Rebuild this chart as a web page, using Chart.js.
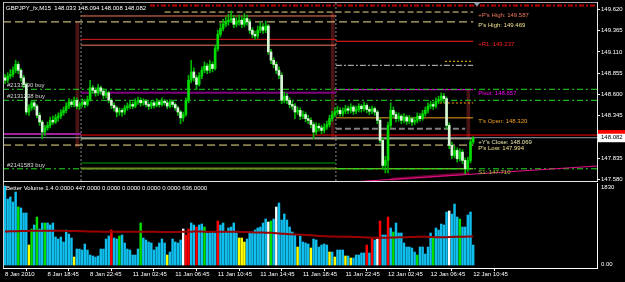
<!DOCTYPE html>
<html lang="en">
<head>
<meta charset="UTF-8">
<title>GBPJPY_fx,M15</title>
<script src="https://cdn.jsdelivr.net/npm/chart.js"></script>
<style>
  html, body { margin: 0; padding: 0; background: #000; }
  #wrap { position: relative; width: 625px; height: 282px; overflow: hidden; background: #000; }
  #wrap canvas { position: absolute; left: 0; }
</style>
</head>
<body>
<div id="wrap">
  <canvas id="priceChart" width="625" height="182" style="top:0px"></canvas>
  <canvas id="volChart" width="625" height="100" style="top:182px"></canvas>
</div>
<script>
// ---- data (M15 bars, oldest first) ----
const opens = [
  148.80,148.77,148.82,148.84,148.89,148.96,148.89,148.80,148.72,148.39,
  148.44,148.50,148.46,148.35,148.27,148.15,148.20,148.23,148.29,148.27,
  148.32,148.34,148.38,148.41,148.46,148.51,148.48,148.53,148.46,148.48,
  148.51,148.48,148.54,148.68,148.65,148.62,148.68,148.64,148.59,148.62,
  148.53,148.47,148.44,148.39,148.41,148.39,148.44,148.46,148.48,148.46,
  148.51,148.53,148.50,148.52,148.48,148.46,148.50,148.47,148.51,148.48,
  148.52,148.50,148.46,148.51,148.48,148.44,148.39,148.32,148.36,148.53,
  148.77,148.87,148.80,148.72,148.82,148.89,148.94,148.89,148.96,148.91,
  149.15,149.32,149.39,149.44,149.47,149.49,149.51,149.44,149.47,149.49,
  149.44,149.51,149.47,149.37,149.32,149.30,149.37,149.41,149.37,149.42,
  149.11,149.01,148.96,148.89,148.83,148.53,148.58,148.53,148.48,148.46,
  148.39,148.41,148.34,148.36,148.31,148.29,148.24,148.15,148.22,148.20,
  148.17,148.21,148.24,148.31,148.36,148.39,148.41,148.37,148.40,148.43,
  148.41,148.45,148.40,148.42,148.46,148.43,148.47,148.42,148.40,148.43,
  148.39,148.29,148.05,147.75,147.81,148.23,148.41,148.36,148.31,148.34,
  148.29,148.33,148.28,148.31,148.27,148.29,148.34,148.31,148.37,148.41,
  148.46,148.48,148.46,148.52,148.54,148.58,148.55,148.23,147.99,147.87,
  147.93,147.83,147.91,147.81,147.71,147.81,148.033
];
const highs = [
  148.84,148.86,148.90,148.93,149.01,148.99,148.91,148.83,148.74,148.48,
  148.53,148.52,148.48,148.38,148.29,148.23,148.27,148.33,148.34,148.36,
  148.38,148.42,148.45,148.50,148.55,148.54,148.57,148.56,148.51,148.55,
  148.54,148.58,148.77,148.71,148.68,148.72,148.70,148.67,148.65,148.64,
  148.55,148.50,148.46,148.44,148.43,148.47,148.50,148.52,148.51,148.55,
  148.57,148.56,148.55,148.54,148.51,148.53,148.52,148.55,148.53,148.56,
  148.54,148.52,148.54,148.53,148.50,148.46,148.41,148.39,148.56,148.83,
  149.01,148.92,148.83,148.86,148.93,148.99,148.97,149.01,148.99,149.19,
  149.37,149.45,149.50,149.53,149.56,149.60,149.55,149.52,149.55,149.53,
  149.57,149.55,149.50,149.40,149.36,149.42,149.47,149.45,149.48,149.44,
  149.14,149.04,148.99,148.93,148.86,148.63,148.61,148.56,148.52,148.49,
  148.45,148.44,148.40,148.39,148.35,148.32,148.27,148.26,148.25,148.23,
  148.25,148.28,148.35,148.40,148.44,148.46,148.44,148.44,148.47,148.46,
  148.49,148.47,148.46,148.49,148.48,148.51,148.49,148.45,148.46,148.45,
  148.41,148.31,148.08,147.86,148.27,148.50,148.45,148.39,148.38,148.36,
  148.37,148.35,148.35,148.33,148.33,148.38,148.37,148.41,148.45,148.50,
  148.52,148.51,148.56,148.58,148.62,148.61,148.57,148.26,148.03,147.98,
  147.96,147.95,147.94,147.84,147.85,148.06,148.094
];
const lows = [
  148.73,148.74,148.79,148.81,148.86,148.85,148.76,148.68,148.36,148.35,
  148.41,148.42,148.32,148.23,148.07,148.11,148.17,148.20,148.24,148.25,
  148.28,148.31,148.35,148.38,148.43,148.45,148.45,148.43,148.42,148.45,
  148.44,148.46,148.52,148.61,148.58,148.59,148.60,148.55,148.56,148.50,
  148.43,148.40,148.33,148.35,148.34,148.36,148.41,148.43,148.43,148.44,
  148.48,148.46,148.47,148.45,148.42,148.43,148.44,148.45,148.45,148.46,
  148.47,148.43,148.44,148.45,148.41,148.35,148.25,148.28,148.34,148.50,
  148.74,148.76,148.66,148.70,148.79,148.86,148.85,148.86,148.87,148.89,
  149.12,149.29,149.36,149.41,149.43,149.46,149.40,149.41,149.43,149.40,
  149.41,149.43,149.33,149.28,149.26,149.27,149.34,149.33,149.34,149.08,
  148.97,148.92,148.85,148.79,148.49,148.50,148.49,148.44,148.42,148.31,
  148.36,148.30,148.31,148.27,148.25,148.20,148.07,148.12,148.16,148.13,
  148.14,148.18,148.21,148.28,148.33,148.36,148.34,148.34,148.37,148.37,
  148.38,148.36,148.37,148.39,148.39,148.40,148.38,148.36,148.37,148.35,
  148.25,148.02,147.71,147.66,147.66,148.20,148.32,148.27,148.28,148.25,
  148.26,148.24,148.25,148.23,148.24,148.26,148.28,148.29,148.34,148.38,
  148.43,148.42,148.44,148.49,148.51,148.50,148.19,147.95,147.83,147.84,
  147.79,147.80,147.77,147.65,147.68,147.78,148.008
];
const closes = [
  148.77,148.82,148.84,148.89,148.96,148.89,148.80,148.72,148.39,148.44,
  148.50,148.46,148.35,148.27,148.15,148.20,148.23,148.29,148.27,148.32,
  148.34,148.38,148.41,148.46,148.51,148.48,148.53,148.46,148.48,148.51,
  148.48,148.54,148.68,148.65,148.62,148.68,148.64,148.59,148.62,148.53,
  148.47,148.44,148.39,148.41,148.39,148.44,148.46,148.48,148.46,148.51,
  148.53,148.50,148.52,148.48,148.46,148.50,148.47,148.51,148.48,148.52,
  148.50,148.46,148.51,148.48,148.44,148.39,148.32,148.36,148.53,148.77,
  148.87,148.80,148.72,148.82,148.89,148.94,148.89,148.96,148.91,149.15,
  149.32,149.39,149.44,149.47,149.49,149.51,149.44,149.47,149.49,149.44,
  149.51,149.47,149.37,149.32,149.30,149.37,149.41,149.37,149.42,149.11,
  149.01,148.96,148.89,148.83,148.53,148.58,148.53,148.48,148.46,148.39,
  148.41,148.34,148.36,148.31,148.29,148.24,148.15,148.22,148.20,148.17,
  148.21,148.24,148.31,148.36,148.39,148.41,148.37,148.40,148.43,148.41,
  148.45,148.40,148.42,148.46,148.43,148.47,148.42,148.40,148.43,148.39,
  148.29,148.05,147.75,147.81,148.23,148.41,148.36,148.31,148.34,148.29,
  148.33,148.28,148.31,148.27,148.29,148.34,148.31,148.37,148.41,148.46,
  148.48,148.46,148.52,148.54,148.58,148.55,148.23,147.99,147.87,147.93,
  147.83,147.91,147.81,147.71,147.81,148.033,148.082
];

// Better Volume 1.4: tick volume, its average and the bar class
// n = neutral, l = low volume, u = climax up, d = climax down, c = churn
const volumes = [
  1770,1478,1523,1411,1635,1299,1277,1165,1165,448,
  806,896,1075,806,941,941,941,896,941,627,
  582,627,515,784,694,605,179,358,358,336,
  470,336,224,202,179,202,358,358,582,650,
  784,605,582,650,672,493,358,336,224,224,
  358,941,605,560,515,493,336,403,493,582,
  493,224,291,582,515,493,560,806,672,806,
  941,896,851,896,918,851,717,717,739,717,
  986,896,941,739,829,851,941,717,605,605,
  515,582,739,739,784,829,851,941,1030,963,
  986,1030,1299,1389,1008,1142,1008,851,739,672,
  403,650,515,493,470,381,582,560,403,448,
  470,448,291,291,179,336,336,336,202,202,
  157,157,224,224,269,269,448,269,605,560,
  582,986,672,672,1075,829,739,941,717,717,
  493,403,403,381,291,224,403,403,246,403,
  717,627,829,784,918,896,1187,1210,1142,1366,
  1075,1030,851,851,1120,1187,447
];
const volAvg = [
  752,752,754,755,756,758,760,762,763,764,
  765,766,766,767,768,768,767,767,766,766,
  766,765,765,764,764,763,762,760,758,756,
  754,752,750,749,748,748,747,747,746,746,
  746,747,747,746,745,745,745,744,744,744,
  745,745,745,744,744,743,743,743,742,742,
  742,741,741,741,742,742,743,744,745,746,
  747,748,748,748,748,747,747,746,746,746,
  747,747,746,746,745,745,744,744,743,742,
  740,738,735,732,730,728,727,726,725,724,
  722,718,714,708,702,698,694,690,688,686,
  684,680,676,672,668,664,660,656,652,648,
  645,642,640,638,636,635,634,633,632,632,
  631,630,628,626,624,620,616,614,612,612,
  611,611,612,612,613,614,616,618,620,621,
  622,624,626,628,630,631,632,632,631,630,
  628,626,624,622,622,622,624,628,630,632,
  633,634,635,635,636,636,636
];
const volType = [
  'n','n','n','n','n','c','n','n','n','l',
  'c','n','c','n','n','c','n','n','n','n',
  'n','n','n','n','n','n','l','n','n','n',
  'n','n','n','n','n','n','n','n','n','n',
  'u','n','n','c','n','n','n','n','n','n',
  'n','c','n','n','n','n','n','n','n','n',
  'n','l','n','n','n','n','n','d','u','u',
  'n','n','u','n','n','c','n','n','n','n',
  'u','n','n','n','n','n','n','n','l','l',
  'l','n','n','n','n','n','n','n','n','d',
  'c','n','d','n','n','n','n','n','n','n',
  'l','n','n','n','n','l','n','n','n','n',
  'n','n','l','n','l','n','n','n','l','n',
  'l','n','n','n','n','n','u','n','u','n',
  'd','u','n','n','u','n','c','n','n','n',
  'n','n','n','n','n','c','n','n','n','n',
  'n','c','n','n','n','n','n','d','n','n',
  'n','c','n','n','n','n','n'
];

const timeTickIdx = [0, 16, 32, 48, 64, 80, 96, 112, 128, 144, 160, 176];
const timeLabels = ['8 Jan 2010', '8 Jan 18:45', '8 Jan 22:45', '11 Jan 02:45', '11 Jan 06:45', '11 Jan 10:45',
                    '11 Jan 14:45', '11 Jan 18:45', '11 Jan 22:45', '12 Jan 02:45', '12 Jan 06:45', '12 Jan 10:45'];
const priceTicks = [147.580, 147.835, 148.345, 148.600, 148.855, 149.110, 149.365, 149.620];
const volTickLabels = ['1830', '0.00'];

// horizontal levels drawn by the indicators and open orders (null = chart edge)
const levelKeys   = ['r2', 'pHigh2', 'yHigh', 'pHigh', 'yR1', 'yR1b', 'r1', 'dotHigh', 'midDash', 'order1',
                     'pivot', 'yPivot', 'order2', 'dotOpen', 'tOpen', 'grayDash', 'oldPivot', 'ask', 'bid', 'yClose',
                     'pLow', 'yS1', 'yS1b', 'order3', 's1'];
const levelPrices = [149.665, 149.587, 149.540, 149.469, 149.260, 149.190, 149.237, 148.997, 148.949, 148.662,
                     148.657, 148.620, 148.530, 148.498, 148.320, 148.190, 148.126, 148.114, 148.082, 148.069,
                     147.994, 147.780, 147.712, 147.710, 147.710];
const levelFrom   = [54.5, 60, 28.6, null, 28.6, 28.6, 124.4, 165.4, 124.4, null,
                     124.4, 28.6, null, 163.5, 124.4, 124.4, null, 28.6, null, 28.6,
                     null, 28.6, 28.6, null, 124.4];
const levelTo     = [null, 176, 124.4, 176, 124.4, 124.4, 176, 176, 176, null,
                     176, 124.4, null, 176, 176, 173, 28.6, null, null, 176,
                     176, 124.4, 124.4, null, 176];

const orderNames  = { order1: '#2131190 buy', order2: '#2131238 buy', order3: '#2141583 buy' };
const levelText   = { pHigh2: "+P's High: ", pHigh: "P's High: ", r1: '+R1: ', pivot: 'Pivot: ',
                      tOpen: "T's Open: ", yClose: "+Y's Close: ", pLow: "P's Low: ", s1: 'S1: ' };

const separators = [28.6, 124.4];
const rangeX  = [27.2, 123.2, 174.2];
const rangeLo = [147.97, 148.06, 148.09];
const rangeHi = [149.46, 149.58, 148.65];
const trendX = [134.2, 222.6];
const trendY = [147.56, 147.743];
const trend2X = [145, 174.5];
const trend2Y = [147.585, 147.655];

// ---- styles ----
const FONT = '6px "Liberation Sans", Arial, sans-serif';
const X_MIN = -0.752, X_MAX = 222.56;
const PRICE_MIN = 147.5637, PRICE_MAX = 149.6954;
const VOL_MIN = -67, VOL_MAX = 1837;

const dashDot = [6, 3, 2, 3];
const levelStyle = {
  r2:       { color: '#c00000', width: 2, dash: [5, 2, 2, 2] },
  pHigh2:   { color: '#e6d98a', width: 1, dash: [6, 3] },
  yHigh:    { color: '#f07a5c', width: 1 },
  pHigh:    { color: '#efe08c', width: 1, dash: [8, 4] },
  yR1:      { color: '#e01818', width: 1 },
  yR1b:     { color: '#f07a5c', width: 1 },
  r1:       { color: '#ff2020', width: 1 },
  dotHigh:  { color: '#ffc000', width: 1, dash: [2, 2] },
  midDash:  { color: '#c8c8c8', width: 1, dash: [6, 2, 2, 2] },
  order1:   { color: '#22dd22', width: 1, dash: dashDot },
  pivot:    { color: '#ff00ff', width: 1 },
  yPivot:   { color: '#800080', width: 2 },
  order2:   { color: '#22dd22', width: 1, dash: dashDot },
  dotOpen:  { color: '#ffa500', width: 1, dash: [2, 2] },
  tOpen:    { color: '#f0a020', width: 1 },
  grayDash: { color: '#808080', width: 2, dash: [6, 3] },
  oldPivot: { color: '#a020a0', width: 2 },
  ask:      { color: '#ff0000', width: 1 },
  bid:      { color: '#8fa0b4', width: 1 },
  yClose:   { color: '#e8e8b0', width: 1 },
  pLow:     { color: '#efe08c', width: 1, dash: [8, 4] },
  yS1:      { color: '#005000', width: 2 },
  yS1b:     { color: '#6b8e23', width: 2 },
  order3:   { color: '#22dd22', width: 1, dash: dashDot },
  s1:       { color: '#80ff20', width: 1 }
};
const labelColor = { pHigh2: '#f07a5c', pHigh: '#efe08c', r1: '#ff2020', pivot: '#ff00ff',
                     tOpen: '#f0a020', yClose: '#e8e8b0', pLow: '#efe08c', s1: '#9acd32' };
const volColor = { n: '#10bfee', l: '#ffff00', u: '#ff0000', d: '#ffffff', c: '#00e000' };

const lastBar = closes.length - 1;

// ---- price panel ----
const levelSets = levelKeys.map((k, i) => {
  const st = levelStyle[k];
  return {
    type: 'line',
    data: [
      { x: levelFrom[i] === null ? X_MIN : levelFrom[i], y: levelPrices[i] },
      { x: levelTo[i] === null ? X_MAX : levelTo[i], y: levelPrices[i] }
    ],
    borderColor: st.color,
    borderWidth: st.width,
    borderDash: st.dash || [],
    pointRadius: 0,
    tension: 0,
    order: 3
  };
});

const sepSets = separators.map(s => ({
  type: 'line',
  data: [{ x: s, y: PRICE_MIN }, { x: s, y: PRICE_MAX }],
  borderColor: '#8a8a8a', borderWidth: 1, borderDash: [2, 2], pointRadius: 0, order: 4
}));

const trendSets = [
  { type: 'line', data: trend2X.map((v, i) => ({ x: v, y: trend2Y[i] })),
    borderColor: '#6a0030', borderWidth: 3, pointRadius: 0, order: 3 },
  { type: 'line', data: trendX.map((v, i) => ({ x: v, y: trendY[i] })),
    borderColor: '#e8108c', borderWidth: 1, pointRadius: 0, order: 2 }
];

function fmtPrice(v) { return v.toFixed(3); }

const priceDecor = {
  id: 'priceDecor',
  afterDraw(chart) {
    const { ctx, chartArea: a, scales: { x, y } } = chart;
    ctx.save();
    // frame
    ctx.lineWidth = 1;
    ctx.strokeStyle = '#a8a8a8';
    ctx.beginPath(); ctx.moveTo(a.left, 2.5); ctx.lineTo(a.right, 2.5); ctx.stroke();
    ctx.strokeStyle = '#c8c8c8';
    ctx.beginPath(); ctx.moveTo(a.left + 0.5, 2); ctx.lineTo(a.left + 0.5, 182); ctx.stroke();
    ctx.strokeStyle = '#e8e8e8';
    ctx.beginPath(); ctx.moveTo(a.left, a.bottom + 0.5); ctx.lineTo(a.right, a.bottom + 0.5); ctx.stroke();
    ctx.beginPath(); ctx.moveTo(a.right + 0.5, 2); ctx.lineTo(a.right + 0.5, 182); ctx.stroke();

    ctx.font = FONT;
    ctx.textBaseline = 'middle';
    ctx.textAlign = 'left';

    // header
    ctx.fillStyle = '#ffffff';
    const ohlc = [opens[lastBar], highs[lastBar], lows[lastBar], closes[lastBar]].map(fmtPrice).join(' ');
    ctx.fillText('GBPJPY_fx,M15  ' + ohlc, 6, 8);

    // order labels on the left
    ctx.fillStyle = '#d8d8d8';
    levelKeys.forEach((k, i) => {
      if (orderNames[k]) ctx.fillText(orderNames[k], a.left + 4, y.getPixelForValue(levelPrices[i]) - 3.5);
    });

    // level labels on the right
    const lx = x.getPixelForValue(lastBar) + 5;
    levelKeys.forEach((k, i) => {
      if (levelText[k]) {
        ctx.fillStyle = labelColor[k];
        ctx.fillText(levelText[k] + fmtPrice(levelPrices[i]), lx, y.getPixelForValue(levelPrices[i]) + 3.5);
      }
    });

    // ask and bid boxes on the price scale
    const askY = y.getPixelForValue(levelPrices[levelKeys.indexOf('ask')]);
    const bidY = y.getPixelForValue(closes[lastBar]);
    ctx.fillStyle = '#ff0000';
    ctx.fillRect(a.right + 1, askY - 5, 625 - a.right, 8);
    ctx.fillStyle = '#ffffff';
    ctx.fillRect(a.right + 1, bidY - 4, 625 - a.right, 8.5);
    ctx.fillStyle = '#000000';
    ctx.fillText(fmtPrice(closes[lastBar]), a.right + 4, bidY);

    // chart shift marker
    const sx = x.getPixelForValue(lastBar + 1.4);
    ctx.fillStyle = '#8898a8';
    ctx.beginPath(); ctx.moveTo(sx - 3, 3); ctx.lineTo(sx + 3, 3); ctx.lineTo(sx, 6.5); ctx.closePath(); ctx.fill();
    ctx.restore();
  }
};

new Chart(document.getElementById('priceChart'), {
  type: 'bar',
  data: {
    datasets: [
      { type: 'bar', data: closes.map((c, i) => ({ x: i, y: [Math.min(opens[i], c), Math.max(opens[i], c)] })),
        backgroundColor: ctx => closes[ctx.dataIndex] < opens[ctx.dataIndex] ? '#d8f8d8' : '#00dc00',
        barThickness: 2, minBarLength: 1, grouped: false, borderWidth: 0, order: 0 },
      { type: 'bar', data: closes.map((c, i) => ({ x: i, y: [lows[i], highs[i]] })),
        backgroundColor: '#00b400', barThickness: 1, grouped: false, borderWidth: 0, order: 1 },
      ...trendSets,
      ...levelSets,
      ...sepSets,
      { type: 'bar', data: rangeX.map((v, i) => ({ x: v, y: [rangeLo[i], rangeHi[i]] })),
        backgroundColor: '#4b1414', barThickness: 3, grouped: false, borderWidth: 0, order: 5 }
    ]
  },
  options: {
    animation: false,
    responsive: false,
    devicePixelRatio: 1,
    events: [],
    layout: { padding: { left: 3, top: 3, right: 0, bottom: 1 } },
    plugins: { legend: { display: false }, tooltip: { enabled: false } },
    scales: {
      x: { type: 'linear', display: false, min: X_MIN, max: X_MAX, offset: false },
      y: {
        type: 'linear', position: 'right', min: PRICE_MIN, max: PRICE_MAX,
        afterBuildTicks: s => { s.ticks = priceTicks.map(v => ({ value: v })); },
        afterFit: s => { s.width = 28; s.paddingTop = 0; s.paddingBottom = 0; },
        grid: { display: true, drawOnChartArea: false, tickLength: 3, color: '#ffffff' },
        border: { display: true, color: '#ffffff' },
        ticks: { color: '#ffffff', padding: 1, font: { family: 'Liberation Sans', size: 6 }, callback: v => v.toFixed(3) }
      }
    }
  },
  plugins: [priceDecor]
});

// ---- volume panel ----
const volDecor = {
  id: 'volDecor',
  afterDraw(chart) {
    const { ctx, chartArea: a, scales: { y } } = chart;
    ctx.save();
    ctx.strokeStyle = '#c8c8c8';
    ctx.lineWidth = 1;
    ctx.beginPath(); ctx.moveTo(a.left + 0.5, 0); ctx.lineTo(a.left + 0.5, a.bottom); ctx.stroke();
    ctx.font = FONT;
    ctx.textBaseline = 'middle';
    ctx.fillStyle = '#ffffff';
    const v = volumes[lastBar], t = volType[lastBar];
    const buf = ['u', 'n', 'l', 'c', 'd', 'm'].map(k => (k === t ? v : 0).toFixed(4));
    ctx.fillText('Better Volume 1.4 ' + buf.join(' ') + ' ' + volAvg[lastBar].toFixed(4), 6, 6);
    ctx.fillText(volTickLabels[0], a.right + 4, 5);
    ctx.fillText(volTickLabels[1], a.right + 4, y.getPixelForValue(0) - 1);
    ctx.restore();
  }
};

new Chart(document.getElementById('volChart'), {
  type: 'bar',
  data: {
    datasets: [
      { type: 'line', data: volAvg.map((v, i) => ({ x: i, y: v })),
        borderColor: '#9b0000', borderWidth: 2, pointRadius: 0, tension: 0, order: 0 },
      { type: 'bar', data: volumes.map((v, i) => ({ x: i, y: v })),
        backgroundColor: ctx => volColor[volType[ctx.dataIndex]],
        barThickness: 1.8, grouped: false, borderWidth: 0, order: 1 }
    ]
  },
  options: {
    animation: false,
    responsive: false,
    devicePixelRatio: 1,
    events: [],
    layout: { padding: { left: 3, top: 1, right: 0, bottom: 0 } },
    plugins: { legend: { display: false }, tooltip: { enabled: false } },
    scales: {
      x: {
        type: 'linear', min: X_MIN, max: X_MAX, offset: false, position: 'bottom',
        afterBuildTicks: s => { s.ticks = timeTickIdx.map(v => ({ value: v })); },
        afterFit: s => { s.height = 14; s.paddingLeft = 0; s.paddingRight = 0; },
        grid: { display: true, drawOnChartArea: false, tickLength: 3, color: '#ffffff' },
        border: { display: true, color: '#ffffff' },
        ticks: { color: '#ffffff', padding: 0, autoSkip: false, maxRotation: 0, align: 'start',
                 font: { family: 'Liberation Sans', size: 6 }, callback: (v, i) => timeLabels[i] }
      },
      y: {
        type: 'linear', position: 'right', min: VOL_MIN, max: VOL_MAX,
        afterFit: s => { s.width = 28; s.paddingTop = 0; s.paddingBottom = 0; },
        grid: { display: false },
        border: { display: true, color: '#ffffff' },
        ticks: { display: false }
      }
    }
  },
  plugins: [volDecor]
});
</script>
</body>
</html>
